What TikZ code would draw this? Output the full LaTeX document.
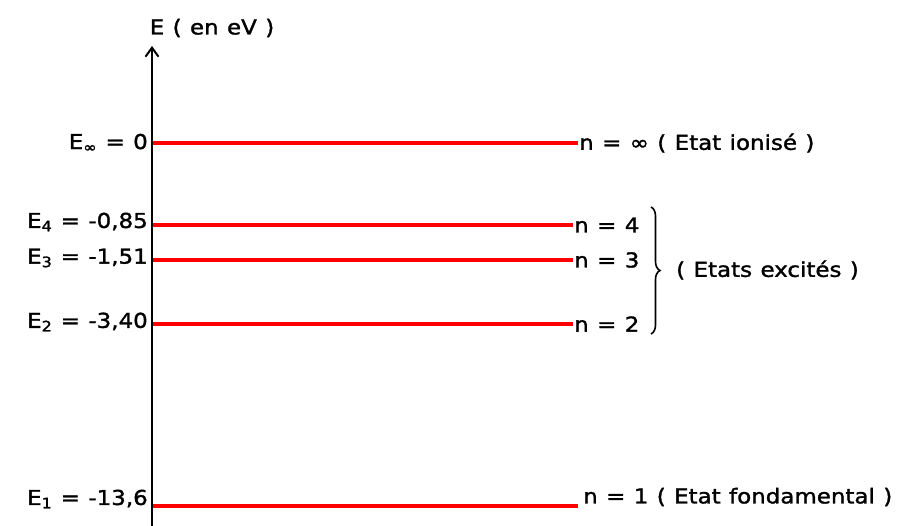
\documentclass[tikz,border=0pt]{standalone}
\usepackage{fontspec}
\setmainfont{DejaVu Sans}[FakeStretch=1.12,FakeBold=1.5,WordSpace=1.15]
\usetikzlibrary{decorations.pathreplacing,arrows.meta}
\begin{document}
\begin{tikzpicture}[x=1pt,y=-1pt,
  lvl/.style={draw=red,line width=3.4pt},
  lab/.style={font=\fontsize{20.5}{24}\selectfont,inner sep=1pt},
  llab/.style={lab,anchor=east},
  rlab/.style={lab,anchor=west},
  axisline/.style={draw=black,line width=2pt,-{Straight Barb[length=9pt,width=13pt,line width=2pt]}}]
\useasboundingbox[fill=white] (0,0) rectangle (906,526);
% axis
\coordinate (axb) at (152,526);
\coordinate (axt) at (152,46);
\draw[axisline] (axb) -- (axt);
\node[lab] (title) at (212,28) {E ( en eV )};
% level coordinates on axis
\coordinate (a0) at (153,143);
\coordinate (a4) at (153,225);
\coordinate (a3) at (153,260);
\coordinate (a2) at (153,324);
\coordinate (a1) at (153,506);
% left labels
\node[llab] (l0) at (149,143) {E\textsubscript{∞} = 0};
\node[llab] (l4) at (149,222) {E\textsubscript{4} = -0,85};
\node[llab] (l3) at (149,258) {E\textsubscript{3} = -1,51};
\node[llab] (l2) at (149,322) {E\textsubscript{2} = -3,40};
\node[llab] (l1) at (149,499) {E\textsubscript{1} = -13,6};
% right labels
\node[rlab] (r0) at (578,143) {n = ∞ ( Etat ionisé )};
\node[rlab] (r4) at (573,225) {n = 4};
\node[rlab] (r3) at (573,260) {n = 3};
\node[rlab] (r2) at (573,324) {n = 2};
\node[rlab] (r1) at (582,497) {n = 1 ( Etat fondamental )};
% levels
\draw[lvl] (a0) -- (r0.west |- a0);
\draw[lvl] (a4) -- (r4.west |- a4);
\draw[lvl] (a3) -- (r3.west |- a3);
\draw[lvl] (a2) -- (r2.west |- a2);
\draw[lvl] (a1) -- (578,506);
% brace
\coordinate (bt) at (651,207);
\coordinate (bb) at (651,334);
\draw[line width=1.6pt,decorate,decoration={brace,amplitude=9pt}] (bt) -- (bb);
\node[rlab] (exc) at (675,270) {( Etats excités )};
\end{tikzpicture}
\end{document}
